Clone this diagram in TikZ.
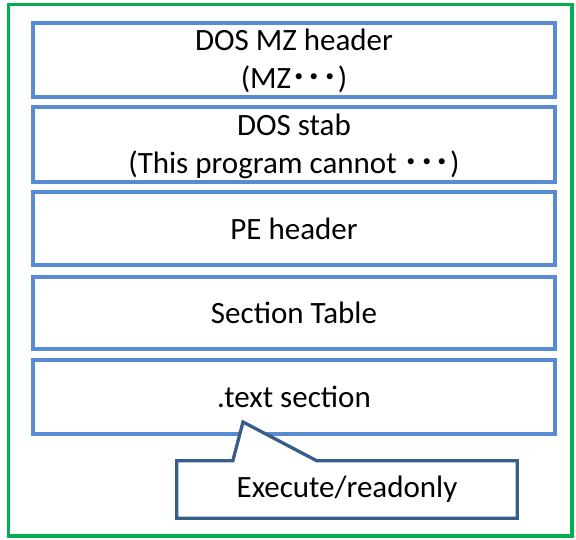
\documentclass[tikz,border=0pt]{standalone}
\usepackage{fontspec}
\setmainfont{Carlito}
\newfontfamily\jpfont{Noto Sans CJK JP Bold}
\usetikzlibrary{calc}
\definecolor{frameGreen}{RGB}{0,176,80}
\definecolor{boxBlue}{RGB}{88,140,210}
\definecolor{noteBlue}{RGB}{56,93,138}
% Half-width katakana middle dots, three in a row
\newcommand{\kdots}{{\jpfont ･･･}}
\tikzset{
  layer/.style={draw=boxBlue, line width=3.5pt, fill=white,
    minimum width=522pt, align=center, inner sep=0pt,
    font=\fontsize{31}{38}\selectfont},
  twoline/.style={text height=66pt, text depth=8pt},
  notebody/.style={minimum width=340pt, minimum height=57pt, inner sep=0pt,
    font=\fontsize{31}{38}\selectfont},
  noteline/.style={draw=noteBlue, line width=3.3pt, fill=white, line join=miter},
}
\begin{document}
\begin{tikzpicture}[x=1pt, y=-1pt]
  \useasboundingbox (0,0) rectangle (576,540);
  % outer frame
  \draw[frameGreen, line width=3.5pt] (8.5,4.5) rectangle (572,536);
  % PE file layers
  \node[layer, twoline, minimum height=74pt] (mz)   at (294,60)    {DOS MZ header\\(MZ\kdots)};
  \node[layer, twoline, minimum height=75pt] (stub) at (294,144.5) {DOS stab\\(This program cannot \kdots)};
  \node[layer, minimum height=73pt] (pe)   at (294,228.5) {PE header};
  \node[layer, minimum height=72pt] (sect) at (294,313)   {Section Table};
  \node[layer, minimum height=74pt] (text) at (294,397)   {.text section};
  % callout
  \coordinate (tip) at (243,422);
  \node[notebody] (note) at (347,489.5) {};
  \draw[noteline] (note.north west) -- ($(note.north west)+(56,0)$) -- (tip)
    -- ($(note.north west)+(140,0)$) -- (note.north east) -- (note.south east)
    -- (note.south west) -- cycle;
  \node[notebody] at (note) {Execute/readonly};
\end{tikzpicture}
\end{document}
